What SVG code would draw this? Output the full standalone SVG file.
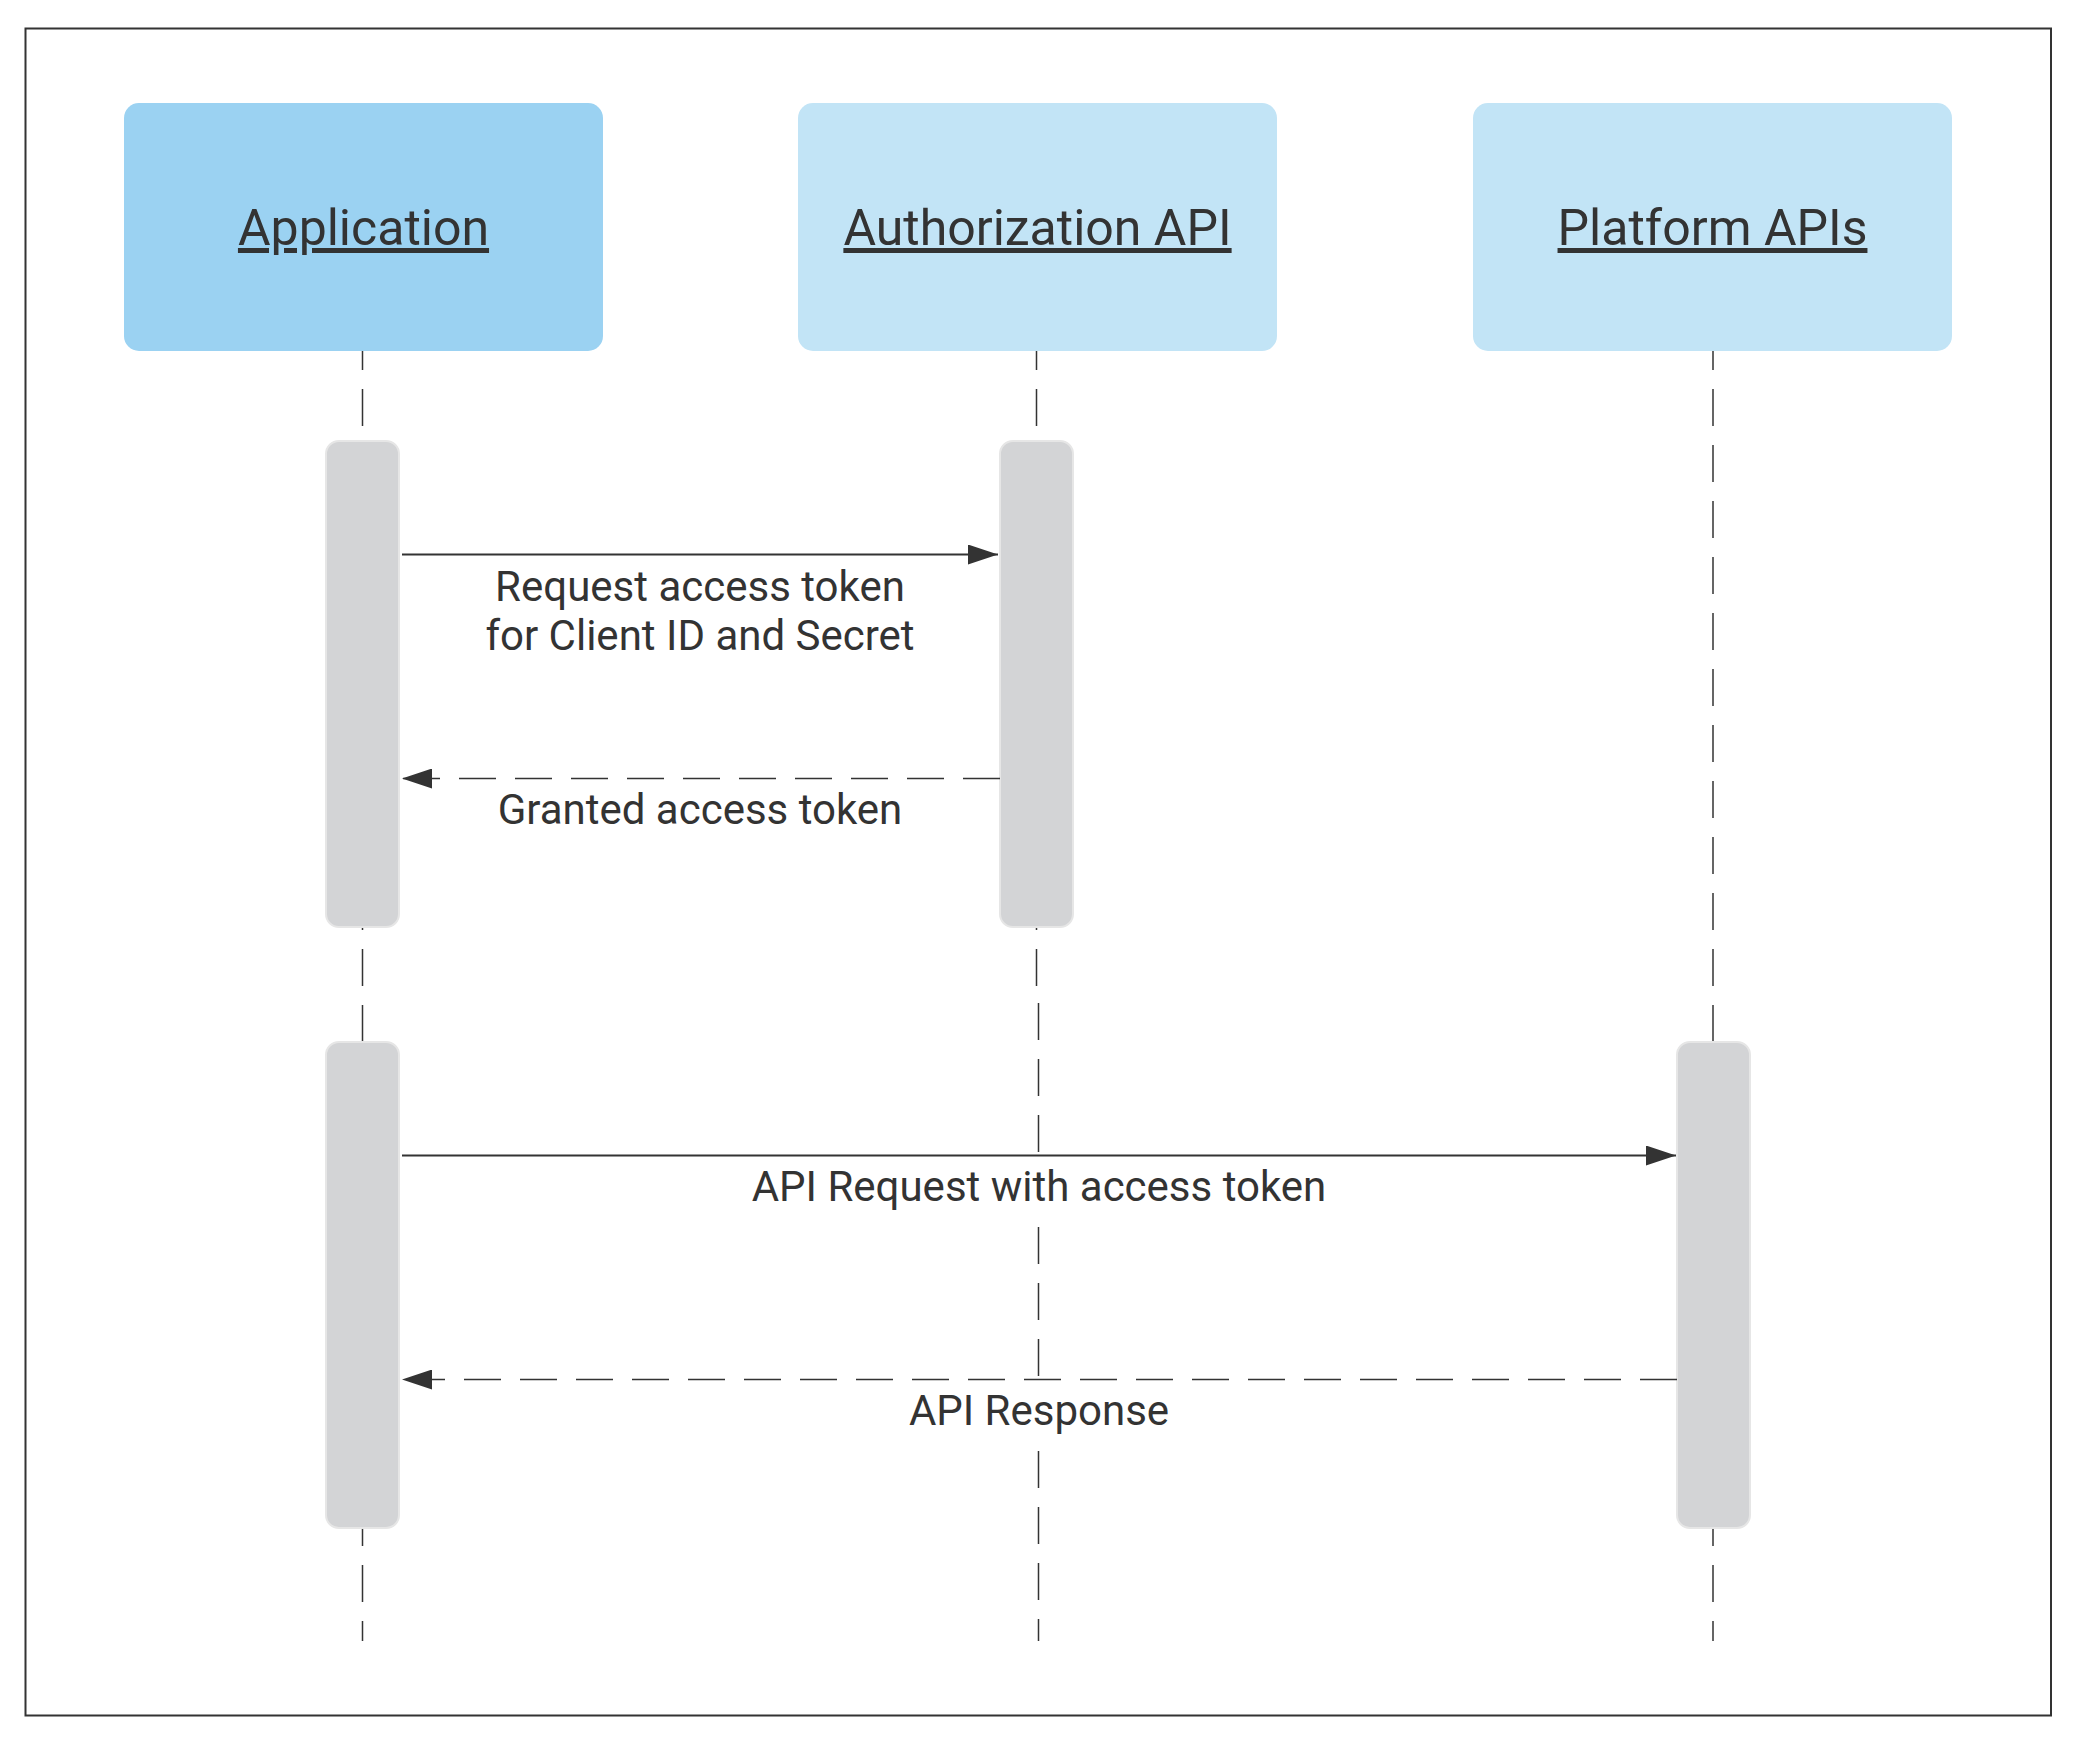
<svg xmlns="http://www.w3.org/2000/svg" width="2079" height="1746" viewBox="0 0 2079 1746">
<style>
  .frame{fill:#ffffff;stroke:#333333;stroke-width:2}
  .actor{stroke:none}
  .app{fill:#9bd2f2}
  .svc{fill:#c2e4f6}
  .title{font-family:Roboto,"Liberation Sans",sans-serif;font-size:50px;fill:#333333;text-anchor:middle;text-decoration:underline}
  .life{fill:none;stroke:#333333;stroke-width:1.5;stroke-dasharray:37 19;stroke-dashoffset:17}
  .bar{fill:#d3d4d6;stroke:#e6e6e6;stroke-width:2}
  .msg{fill:none;stroke:#333333;stroke-width:2}
  .ret{fill:none;stroke:#333333;stroke-width:1.5;stroke-dasharray:37 19}
  .lbl{font-family:Roboto,"Liberation Sans",sans-serif;font-size:42px;fill:#333333;text-anchor:middle}
  .lblbg{fill:#ffffff}
</style>
<defs>
  <marker id="ah" viewBox="0 0 30 20" refX="30" refY="10" markerWidth="30" markerHeight="20" markerUnits="userSpaceOnUse" orient="auto">
    <path d="M0,0 L30,10 L0,20 Z" fill="#333333"/>
  </marker>
</defs>
<rect class="frame" x="25.5" y="28.5" width="2025.5" height="1687"/>

<g id="lifelines">
  <path class="life" d="M362.5,350 V1641"/>
  <path class="life" d="M1036.5,350 V996 H1038.5 V1641"/>
  <path class="life" d="M1713,350 V1641"/>
</g>

<g id="node-application">
  <rect class="actor app" x="124" y="103" width="479" height="248" rx="15"/>
  <text class="title" x="363.5" y="245">Application</text>
</g>
<g id="node-authorization">
  <rect class="actor svc" x="798" y="103" width="479" height="248" rx="15"/>
  <text class="title" x="1037.5" y="245">Authorization API</text>
</g>
<g id="node-platform">
  <rect class="actor svc" x="1473" y="103" width="479" height="248" rx="15"/>
  <text class="title" x="1712.5" y="245">Platform APIs</text>
</g>

<g id="activations">
  <rect id="act-app-1" class="bar" x="326" y="441" width="73" height="486" rx="13"/>
  <rect id="act-auth-1" class="bar" x="1000" y="441" width="73" height="486" rx="13"/>
  <rect id="act-app-2" class="bar" x="326" y="1042" width="73" height="486" rx="13"/>
  <rect id="act-plat-1" class="bar" x="1677" y="1042" width="73" height="486" rx="13"/>
</g>

<g id="connectors">
  <line class="msg" x1="402" y1="554.5" x2="998" y2="554.5" marker-end="url(#ah)"/>
  <line class="ret" x1="1000" y1="778.5" x2="402" y2="778.5" marker-end="url(#ah)"/>
  <line class="msg" x1="402" y1="1155.5" x2="1676" y2="1155.5" marker-end="url(#ah)"/>
  <line class="ret" x1="1677" y1="1379.5" x2="402" y2="1379.5" marker-end="url(#ah)"/>
</g>

<g id="labels">
  <rect class="lblbg" x="480" y="563" width="440" height="98"/>
  <text class="lbl" x="700" y="601">Request access token</text>
  <text class="lbl" x="700" y="650">for Client ID and Secret</text>
  <rect class="lblbg" x="488" y="787" width="424" height="50"/>
  <text class="lbl" x="700" y="824">Granted access token</text>
  <rect class="lblbg" x="744" y="1160" width="590" height="52"/>
  <text class="lbl" x="1039" y="1201">API Request with access token</text>
  <rect class="lblbg" x="900" y="1387" width="278" height="50"/>
  <text class="lbl" x="1039" y="1425">API Response</text>
</g>
</svg>
